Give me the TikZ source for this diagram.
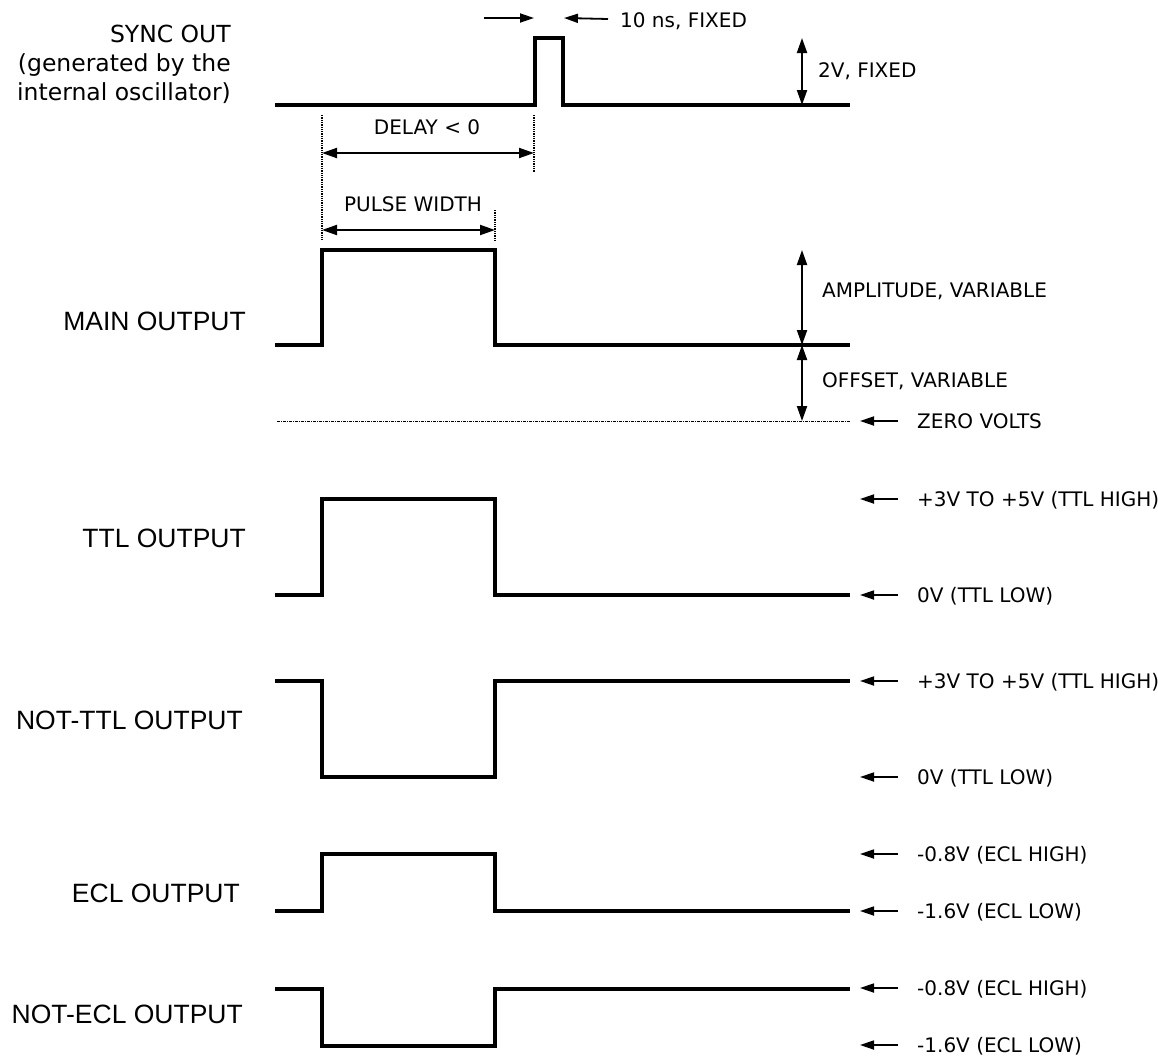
\documentclass[tikz,border=0pt]{standalone}
\usepackage{fontspec}
\setmainfont{DejaVu Sans}
\newfontfamily\arialfont{Liberation Sans}
\usetikzlibrary{arrows.meta}

\begin{document}
\begin{tikzpicture}[x=1pt,y=-1pt,
    wave/.style={line width=3.2pt,line join=miter},
    guide/.style={densely dotted,line width=1.3pt},
    dim/.style={{Triangle[length=15pt,width=10pt]}-{Triangle[length=15pt,width=10pt]},line width=2pt},
    ptr/.style={-{Triangle[length=14pt,width=9pt]},line width=1.8pt},
    biglbl/.style={anchor=base east,inner sep=0pt,font=\arialfont\fontsize{26.5}{30}\selectfont},
    lbl/.style={anchor=base west,inner sep=0pt,font=\fontsize{20}{24}\selectfont}]
  \useasboundingbox (0,0) rectangle (1158,1055);

  % sync out
  \node[anchor=north east,inner sep=0pt,align=right,font=\fontsize{23.5}{29}\selectfont] (sync) at (231,25)
    {SYNC OUT\\(generated by the\\internal oscillator)};
  \draw[wave] (275,105) -- (535,105) -- (535,38) -- (563,38) -- (563,105) -- (850,105);
  \node[lbl] (ten) at (620,27) {10 ns, FIXED};
  \coordinate (p0) at (534,18); \coordinate (p1) at (564,18);
  \draw[ptr] ([xshift=-50]p0) -- (p0);
  \draw[ptr] ([xshift=-12]ten.base west) ++(0,-8) -- (p1);
  \coordinate (s0) at (802,38); \coordinate (s1) at (802,105);
  \draw[dim] (s0) -- (s1);
  \node[lbl] (twov) at (818,77) {2V, FIXED};

  % delay and pulse width
  \draw[guide] (322,115) -- (322,240);
  \draw[guide] (534,115) -- (534,172);
  \draw[guide] (495,210) -- (495,240);
  \coordinate (d0) at (322,153); \coordinate (d1) at (534,153);
  \draw[dim] (d0) -- (d1);
  \node[lbl,anchor=base] (delay) at (427,134) {DELAY < 0};
  \coordinate (w0) at (322,230); \coordinate (w1) at (495,230);
  \draw[dim] (w0) -- (w1);
  \node[lbl,anchor=base] (width) at (413,211) {PULSE WIDTH};

  % main output
  \node[biglbl] (main) at (246,330) {MAIN OUTPUT};
  \draw[wave] (275,345) -- (322,345) -- (322,250) -- (495,250) -- (495,345) -- (850,345);
  \coordinate (a0) at (802,250); \coordinate (a1) at (802,345); \coordinate (a2) at (802,421);
  \draw[dim] (a0) -- (a1);
  \draw[dim] (a1) -- (a2);
  \node[lbl] (amp) at (822,297) {AMPLITUDE, VARIABLE};
  \node[lbl] (off) at (822,387) {OFFSET, VARIABLE};
  \draw[line width=0.8pt,dash pattern=on 3pt off 1pt on 1pt off 1pt] (277,421) -- (850,421);
  \node[lbl] (zero) at (917,428) {ZERO VOLTS};
  \draw[ptr] ([xshift=-19]zero.base west) ++(0,-7) -- ++(-38,0);

  % ttl output
  \node[biglbl] (ttl) at (246,547) {TTL OUTPUT};
  \draw[wave] (275,595) -- (322,595) -- (322,499) -- (495,499) -- (495,595) -- (850,595);
  \node[lbl] (ttlhi) at (917,506) {+3V TO +5V (TTL HIGH)};
  \node[lbl] (ttllo) at (917,602) {0V (TTL LOW)};
  \draw[ptr] ([xshift=-19]ttlhi.base west) ++(0,-7) -- ++(-38,0);
  \draw[ptr] ([xshift=-19]ttllo.base west) ++(0,-7) -- ++(-38,0);

  % not-ttl output
  \node[biglbl] (nttl) at (243,729) {NOT-TTL OUTPUT};
  \draw[wave] (275,681) -- (322,681) -- (322,777) -- (495,777) -- (495,681) -- (850,681);
  \node[lbl] (nttlhi) at (917,688) {+3V TO +5V (TTL HIGH)};
  \node[lbl] (nttllo) at (917,784) {0V (TTL LOW)};
  \draw[ptr] ([xshift=-19]nttlhi.base west) ++(0,-7) -- ++(-38,0);
  \draw[ptr] ([xshift=-19]nttllo.base west) ++(0,-7) -- ++(-38,0);

  % ecl output
  \node[biglbl] (ecl) at (240,902) {ECL OUTPUT};
  \draw[wave] (275,911) -- (322,911) -- (322,854) -- (495,854) -- (495,911) -- (850,911);
  \node[lbl] (eclhi) at (917,861) {-0.8V (ECL HIGH)};
  \node[lbl] (ecllo) at (917,918) {-1.6V (ECL LOW)};
  \draw[ptr] ([xshift=-19]eclhi.base west) ++(0,-7) -- ++(-38,0);
  \draw[ptr] ([xshift=-19]ecllo.base west) ++(0,-7) -- ++(-38,0);

  % not-ecl output
  \node[biglbl] (necl) at (243,1023) {NOT-ECL OUTPUT};
  \draw[wave] (275,989) -- (322,989) -- (322,1046) -- (495,1046) -- (495,989) -- (850,989);
  \node[lbl] (neclhi) at (917,995) {-0.8V (ECL HIGH)};
  \node[lbl] (necllo) at (917,1052) {-1.6V (ECL LOW)};
  \draw[ptr] ([xshift=-19]neclhi.base west) ++(0,-7) -- ++(-38,0);
  \draw[ptr] ([xshift=-19]necllo.base west) ++(0,-7) -- ++(-38,0);
\end{tikzpicture}
\end{document}
